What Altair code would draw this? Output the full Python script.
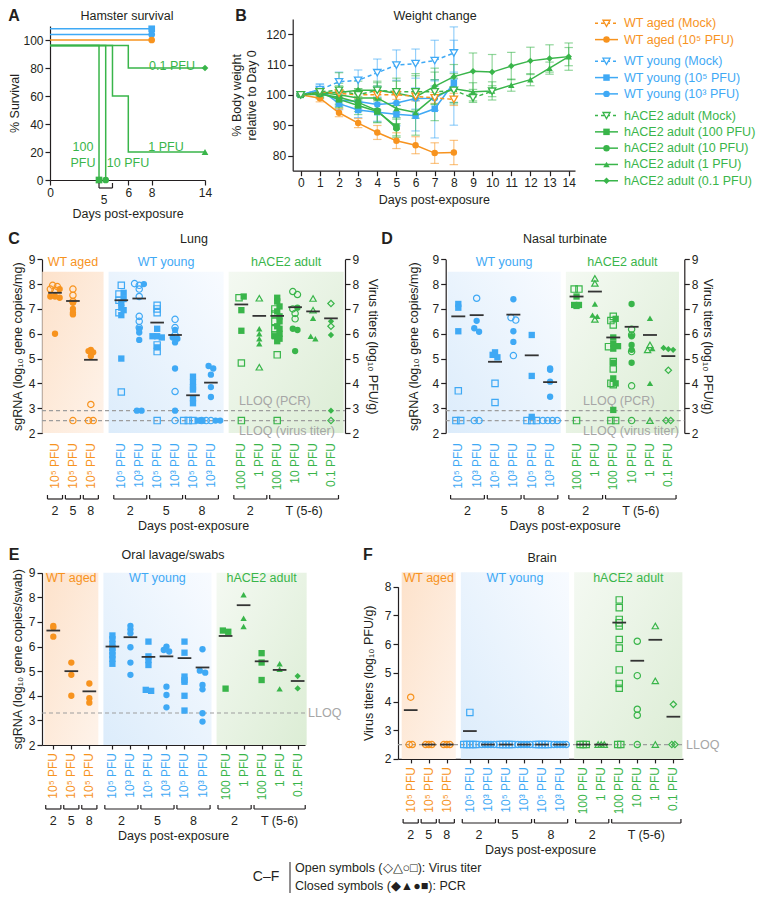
import altair as alt
import pandas as pd

W, H = 748, 888
FONT = "Liberation Sans"
INK = "#231f20"
ORANGE = "#f7931e"
BLUE = "#3fa9f5"
GREEN = "#39b54a"
LLOQ_GRAY = "#9d9d9d"
GCOL = {"aged": ORANGE, "young": BLUE, "hace2": GREEN}
GNAME = {"aged": "WT aged", "young": "WT young", "hace2": "hACE2 adult"}

# ---------------- Panel A: survival ----------------
A_DAYS = [[0, 8], [0, 8], [0, 8], [0, 4.4, 4.4], [0, 5, 5], [0, 5.3, 5.3, 6, 6, 14], [0, 6, 6, 14]]
A_SURV = [[108, 108], [104, 104], [100, 100], [96, 96, 0], [96, 96, 0], [96, 96, 60, 60, 20, 20], [96, 96, 80, 80]]
A_COLOR = [BLUE, BLUE, ORANGE, GREEN, GREEN, GREEN, GREEN]
A_SHAPE = ["square", "circle", "circle", "square", "circle", "triangle-up", "diamond"]
A_TICKS = [0, 6, 8, 14]
A_BRACKET_DAYS = [4.4, 5.3]

# ---------------- Panel B: weight ----------------
B_NAMES = ["WT aged (Mock)", "WT aged (10⁵ PFU)", "WT young (Mock)", "WT young (10⁵ PFU)",
           "WT young (10³ PFU)", "hACE2 adult (Mock)", "hACE2 adult (100 PFU)",
           "hACE2 adult (10 PFU)", "hACE2 adult (1 PFU)", "hACE2 adult (0.1 PFU)"]
B_COLOR = [ORANGE, ORANGE, BLUE, BLUE, BLUE, GREEN, GREEN, GREEN, GREEN, GREEN]
B_SHAPE = ["triangle-down", "circle", "triangle-down", "square", "circle",
           "triangle-down", "square", "circle", "triangle-up", "diamond"]
B_MOCK = [1, 0, 1, 0, 0, 1, 0, 0, 0, 0]
B_LEG_GROUP = [0, 0, 1, 1, 1, 2, 2, 2, 2, 2]
B_MEAN = [
    [100, 101, 100.5, 100, 100, 100, 99.5, 99, 98.5],
    [100, 98.9, 94.1, 90.7, 87.6, 84.9, 83.4, 80.8, 81.0],
    [100, 101.7, 104.3, 104.8, 107.3, 109.8, 110.3, 111.3, 113.8],
    [100, 101.8, 97.1, 95.0, 94.3, 93.6, 93.1, 95.4, 104.0],
    [100, 101.0, 98.3, 97.8, 96.8, 97.3, 98.8, 98.9, 102.5],
    [100, 101.0, 101.5, 100.0, 101.5, 101.0, 101.0, 101.0, 101.5, 99.0, 101.2],
    [100, 100.5, 98.5, 96.5, 94.5, 89.5],
    [100, 100.2, 99.2, 97.5, 94.8, 89.0],
    [100, 100.8, 100.0, 99.0, 99.0, 95.5, 94.2, 99.5, 102.0, 101.0, 101.3, 103.2, 105.0, 108.8, 112.6],
    [100, 100.8, 100.8, 101.5, 101.5, 100.5, 99.3, 102.8, 106.0, 107.8, 107.5, 109.5, 111.2, 112.0, 112.6],
]
B_ERR = [
    [0.3, 0.8, 1.2, 1.2, 1.5, 1.5, 1.5, 1.8, 2.0],
    [0.3, 1.2, 1.3, 1.5, 2.3, 2.6, 2.8, 3.4, 4.0],
    [0.3, 1.8, 3.2, 3.4, 4.5, 5.0, 4.8, 6.7, 8.6],
    [0.3, 1.8, 2.0, 2.5, 3.0, 3.8, 5.0, 9.6, 14.0],
    [0.3, 1.2, 2.0, 2.5, 2.5, 3.0, 3.5, 4.0, 5.0],
    [0.3, 1.0, 5.8, 2.0, 2.5, 4.5, 6.0, 4.0, 4.0, 1.5, 1.8],
    [0.3, 1.5, 2.5, 3.0, 3.5, 3.0],
    [0.3, 1.5, 2.5, 3.0, 4.0, 3.0],
    [0.3, 1.5, 3.0, 3.0, 4.0, 5.0, 7.5, 8.0, 5.0, 3.0, 3.0, 2.0, 2.0, 2.0, 3.0],
    [0.3, 1.5, 3.0, 3.0, 3.0, 4.0, 7.0, 6.0, 4.0, 6.0, 5.8, 4.5, 4.5, 4.5, 4.5],
]
B_TICKS = list(range(0, 15))

# ---------------- Categories (C and F) ----------------
CF_GROUP = ["aged", "aged", "aged", "young", "young", "young", "young", "young", "young",
            "hace2", "hace2", "hace2", "hace2", "hace2", "hace2"]
CF_LABEL = ["10⁵ PFU", "10⁵ PFU", "10⁵ PFU", "10⁵ PFU", "10³ PFU", "10⁵ PFU", "10³ PFU", "10⁵ PFU", "10³ PFU",
            "100 PFU", "1 PFU", "100 PFU", "10 PFU", "1 PFU", "0.1 PFU"]
CF_DAY = ["2", "5", "8", "2", "2", "5", "5", "8", "8", "2", "2", "T (5-6)", "T (5-6)", "T (5-6)", "T (5-6)"]
CF_SHAPE = ["circle", "circle", "circle", "square", "circle", "square", "circle", "square", "circle",
            "square", "triangle-up", "square", "circle", "triangle-up", "diamond"]

# Panel C: lung
C_TITER = [[7.95, 7.9, 7.8, 7.75], [7.8, 7.55, 7.3, 2.5], [3.15, 2.5, 2.5],
           [7.95, 7.6, 7.35, 6.85, 3.65], [8.02, 7.95, 7.8, 7.5, 6.7, 6.5, 6.25],
           [7.15, 7.0, 6.85, 5.55, 5.28, 2.5], [6.58, 6.25, 5.95, 3.67, 2.5],
           [2.5, 2.5, 2.5], [2.5, 2.5, 2.5],
           [7.45, 4.82, 2.5], [7.43, 4.65], [7.0, 6.8, 6.5, 6.2, 5.95, 5.15, 2.5],
           [7.7, 7.58, 7.0, 6.82, 6.6], [7.42, 6.95], [7.22, 6.3, 2.5]]
C_PCR = [[7.8, 7.5, 7.5, 7.45, 6.0], [7.25, 7.0, 6.85, 6.78], [5.35, 5.3, 5.25, 5.1],
         [7.65, 7.4, 7.25, 7.05, 6.95, 6.75, 5.0], [8.0, 6.2, 6.05, 5.75, 2.9, 2.9],
         [6.2, 5.9, 5.9, 5.85, 5.45], [6.15, 5.85, 5.8, 5.65, 4.6, 2.9],
         [4.27, 4.05, 3.85, 3.75, 3.4, 3.2, 2.5, 2.5], [4.7, 4.6, 4.35, 3.85, 3.45, 2.5, 2.5],
         [7.5, 6.95, 6.12], [6.2, 6.0, 5.8, 5.6],
         [7.45, 7.3, 7.1, 6.9, 6.7, 6.5, 6.3, 6.2, 6.0, 5.9, 5.8, 5.7],
         [7.05, 6.2, 6.15, 5.3], [6.62, 5.9, 5.8], [6.5, 5.95, 2.9]]
C_MEAN = [7.65, 7.32, 4.95, 7.35, 7.42, 6.45, 5.95, 3.52, 4.03, 7.18, 6.72, 6.72, 7.07, 6.9, 6.62]

# Panel D: nasal turbinate
D_GROUP = CF_GROUP[3:]
D_LABEL = CF_LABEL[3:]
D_DAY = CF_DAY[3:]
D_SHAPE = CF_SHAPE[3:]
D_TITER = [[3.7, 2.5, 2.5], [7.43, 2.5, 2.5], [4.0, 3.23], [6.65, 6.55, 5.12], [2.5, 2.5, 2.5],
           [2.5, 2.5, 2.5, 2.5], [7.8, 7.8, 2.5], [8.23, 8.03, 6.58],
           [6.7, 6.53, 6.35, 5.48, 4.88, 4.58, 4.0, 3.95, 2.5, 2.5],
           [6.18, 5.95, 5.28, 3.9, 2.5], [5.55, 5.35, 2.5], [4.53, 2.5, 2.5]]
D_PCR = [[7.2, 7.05, 6.1], [6.52, 6.22, 6.08], [5.25, 5.15, 5.05], [7.39, 6.1, 5.67], [5.95, 4.3, 2.65],
         [4.6, 4.55, 4.07, 3.46], [7.5, 7.16, 7.16, 7.12], [7.2, 6.75, 6.7],
         [6.6, 5.85, 5.6, 5.5, 5.4, 4.83, 4.2, 4.0, 2.93], [7.2, 5.9, 5.55, 5.35, 4.83],
         [6.62, 5.4, 4.0], [5.43, 5.38, 5.35]]
D_MEAN = [6.7, 6.75, 4.87, 6.77, 5.13, 4.05, 7.5, 7.7, 5.85, 6.28, 5.95, 5.1]

# Panel E: oral lavage/swabs (PCR only)
E_GROUP = ["aged", "aged", "aged", "young", "young", "young", "young", "young", "young",
           "hace2", "hace2", "hace2", "hace2", "hace2"]
E_LABEL = ["10⁵ PFU", "10⁵ PFU", "10⁵ PFU", "10⁵ PFU", "10³ PFU", "10⁵ PFU", "10³ PFU", "10⁵ PFU", "10³ PFU",
           "100 PFU", "1 PFU", "100 PFU", "1 PFU", "0.1 PFU"]
E_DAY = ["2", "5", "8", "2", "2", "5", "5", "8", "8", "2", "2", "T (5-6)", "T (5-6)", "T (5-6)"]
E_SHAPE = ["circle", "circle", "circle", "square", "circle", "square", "circle", "square", "circle",
           "square", "triangle-up", "square", "triangle-up", "diamond"]
E_TITER = [[], [], [], [], [], [], [], [], [], [], [], [], [], []]
E_PCR = [[6.84, 6.77, 6.4], [5.35, 4.85, 4.0], [4.5, 3.9, 3.72],
         [6.45, 6.3, 6.1, 5.95, 5.8, 5.65, 5.5, 5.3], [6.84, 6.7, 6.54, 5.97, 5.35, 4.85],
         [6.2, 5.6, 5.45, 5.25, 4.24, 4.2], [6.0, 5.86, 5.8, 4.37, 4.03, 3.53],
         [6.2, 5.75, 4.78, 4.64, 4.57, 4.0, 3.4], [5.89, 5.02, 4.94, 4.44, 4.26, 3.29, 2.95],
         [6.65, 6.6, 4.29], [8.1, 7.15, 6.81], [5.73, 5.35, 4.64], [5.3, 5.08, 4.28], [4.8, 4.3]]
E_MEAN = [6.65, 5.0, 4.18, 6.0, 6.38, 5.58, 5.6, 5.53, 5.15, 6.43, 7.68, 5.4, 5.05, 4.6]

# Panel F: brain (virus titer only)
F_TITER = [[4.15, 2.5, 2.5], [2.5, 2.5, 2.5], [2.5, 2.5, 2.5],
           [3.62, 2.5, 2.5, 2.5, 2.5, 2.5], [2.5, 2.5, 2.5, 2.5, 2.5], [2.5, 2.5, 2.5, 2.5, 2.5],
           [2.5, 2.5, 2.5, 2.5, 2.5], [2.5, 2.5, 2.5, 2.5, 2.5], [2.5, 2.5, 2.5, 2.5, 2.5],
           [2.5, 2.5, 2.5], [2.5, 2.5, 2.5],
           [7.54, 7.27, 6.86, 6.74, 6.63, 6.16, 5.86, 5.1, 4.63, 4.46, 2.5, 2.5],
           [6.1, 4.9, 3.73, 3.52, 2.5], [6.63, 4.72, 2.5], [3.9, 2.5, 2.5]]
F_PCR = [[], [], [], [], [], [], [], [], [], [], [], [], [], [], []]
F_MEAN = [3.7, 2.5, 2.5, 2.97, 2.5, 2.5, 2.5, 2.5, 2.5, 2.5, 2.5, 6.75, 5.42, 6.15, 3.47]


# ---------------- helpers ----------------
def P(v):
    return v - 8


def lin(domain, prange):
    return alt.Scale(domain=list(domain), range=[P(r) for r in prange], nice=False, zero=False)


def ax(orient, page_pos, **kw):
    if orient == "left":
        off = -P(page_pos)
    elif orient == "right":
        off = P(page_pos) - W
    else:
        off = P(page_pos) - H
    base = dict(orient=orient, offset=off, grid=False, labelFlush=False, labelOverlap=False)
    base.update(kw)
    return alt.Axis(**base)


def T(text, x, y, size=12.5, color=INK, weight="normal", align="center", angle=0):
    return alt.Chart(pd.DataFrame({"t": [text]})).mark_text(
        font=FONT, fontSize=size, color=color, fontWeight=weight, align=align, angle=angle,
        baseline="middle").encode(x=alt.value(P(x)), y=alt.value(P(y)), text="t:N")


def grad(c0, c1, x1, y1, x2, y2):
    return alt.LinearGradient(gradient="linear", x1=x1, y1=y1, x2=x2, y2=y2,
                              stops=[alt.GradientStop(color=c0, offset=0), alt.GradientStop(color=c1, offset=1)])


GRAD = {
    "aged": grad("#fde2cb", "#fef3ea", 0, 0, 1, 1),
    "young": grad("#dcecfb", "#f8fbff", 0, 1, 1, 0),
    "hace2": grad("#dcedd5", "#f4f9f2", 1, 1, 0, 0),
}

layers = []

# ---------------- Panel A ----------------
a_rows = []
for s, (ds, vs) in enumerate(zip(A_DAYS, A_SURV)):
    for k, (d, v) in enumerate(zip(ds, vs)):
        a_rows.append(dict(s=s, k=k, d=d, v=v, col=A_COLOR[s]))
a_df = pd.DataFrame(a_rows)
a_end = pd.DataFrame([dict(d=ds[-1], v=vs[-1], col=A_COLOR[s], shape=A_SHAPE[s])
                      for s, (ds, vs) in enumerate(zip(A_DAYS, A_SURV))])
AX_ = alt.Scale(domain=[0, 5, 6, 8, 14], range=[P(50), P(105.7), P(128.3), P(151.7), P(205)], nice=False, zero=False)
AY_ = lin([0, 110], [180, 26])
layers.append(alt.Chart(a_df).mark_line(strokeWidth=1.5).encode(
    x=alt.X("d:Q", scale=AX_, axis=ax("bottom", 180, values=A_TICKS, title="Days post-exposure", titlePadding=9)),
    y=alt.Y("v:Q", scale=AY_, axis=ax("left", 50, values=[0, 20, 40, 60, 80, 100], title="% Survival", titlePadding=1)),
    color=alt.Color("col:N", scale=None), detail="s:N", order="k:Q"))
layers.append(alt.Chart(a_end).mark_point(filled=True, size=45, opacity=1).encode(
    x=alt.X("d:Q", scale=AX_, axis=None), y=alt.Y("v:Q", scale=AY_, axis=None),
    color=alt.Color("col:N", scale=None), shape=alt.Shape("shape:N", scale=None)))
a_br = pd.DataFrame({"a": [min(A_BRACKET_DAYS)], "b": [max(A_BRACKET_DAYS)], "t": ["5"]})
layers.append(alt.Chart(a_br).mark_rule(color=INK, strokeWidth=1.2).encode(
    x=alt.X("a:Q", scale=AX_, axis=None), x2="b:Q", y=alt.value(P(188))))
for fld in ["a", "b"]:
    layers.append(alt.Chart(a_br).mark_rule(color=INK, strokeWidth=1.2).encode(
        x=alt.X(fld + ":Q", scale=AX_, axis=None), y=alt.value(P(183)), y2=alt.value(P(188))))
layers.append(alt.Chart(a_br).transform_calculate(mid="(datum.a + datum.b) / 2").mark_text(
    font=FONT, fontSize=12, color=INK).encode(x=alt.X("mid:Q", scale=AX_, axis=None), y=alt.value(P(200)), text="t:N"))
layers += [T("Hamster survival", 127, 16), T("A", 14, 16, size=16, weight="bold"),
           T("0.1 PFU", 172, 66, color=GREEN), T("1 PFU", 166, 147, color=GREEN),
           T("100", 83, 147, color=GREEN), T("PFU", 83, 163, color=GREEN), T("10 PFU", 128, 163, color=GREEN)]

# ---------------- Panel B ----------------
b_rows = []
for si in range(len(B_NAMES)):
    for d, (m, e) in enumerate(zip(B_MEAN[si], B_ERR[si])):
        b_rows.append(dict(si=si, d=d, m=m, e=e, col=B_COLOR[si], shape=B_SHAPE[si], mock=B_MOCK[si]))
b_df = pd.DataFrame(b_rows)
BX = lin([-0.42, 14.33], [292.7, 575])
BY = lin([75, 125], [170.7, 19])
bb = alt.Chart(b_df).transform_calculate(lo="datum.m - datum.e", hi="datum.m + datum.e",
                                         ca="datum.d - 0.22", cb="datum.d + 0.22")
layers.append(bb.mark_rule(strokeWidth=1.2, opacity=0.55).encode(
    x=alt.X("d:Q", scale=BX, axis=None), y=alt.Y("lo:Q", scale=BY, axis=None), y2="hi:Q",
    color=alt.Color("col:N", scale=None)))
for fld in ["lo", "hi"]:
    layers.append(bb.mark_rule(strokeWidth=1.2, opacity=0.55).encode(
        x=alt.X("ca:Q", scale=BX, axis=None), x2="cb:Q", y=alt.Y(fld + ":Q", scale=BY, axis=None),
        color=alt.Color("col:N", scale=None)))
layers.append(alt.Chart(b_df).transform_filter("datum.mock == 0").mark_line(strokeWidth=1.5).encode(
    x=alt.X("d:Q", scale=BX, axis=ax("bottom", 170.7, values=B_TICKS, title="Days post-exposure", titlePadding=5)),
    y=alt.Y("m:Q", scale=BY, axis=ax("left", 292.7, values=[80, 90, 100, 110, 120],
                                      title=["% Body weight", "relative to Day 0"], titlePadding=7,
                                      titleLineHeight=15)),
    color=alt.Color("col:N", scale=None), detail="si:N"))
layers.append(alt.Chart(b_df).transform_filter("datum.mock == 1").mark_line(strokeWidth=1.5, strokeDash=[4, 3]).encode(
    x=alt.X("d:Q", scale=BX, axis=None), y=alt.Y("m:Q", scale=BY, axis=None),
    color=alt.Color("col:N", scale=None), detail="si:N"))
layers.append(alt.Chart(b_df).transform_filter("datum.mock == 0").mark_point(filled=True, size=42, opacity=1).encode(
    x=alt.X("d:Q", scale=BX, axis=None), y=alt.Y("m:Q", scale=BY, axis=None),
    color=alt.Color("col:N", scale=None), shape=alt.Shape("shape:N", scale=None)))
layers.append(alt.Chart(b_df).transform_filter("datum.mock == 1").mark_point(
    filled=True, fill="white", size=55, strokeWidth=1.3, opacity=1).encode(
    x=alt.X("d:Q", scale=BX, axis=None), y=alt.Y("m:Q", scale=BY, axis=None),
    stroke=alt.Stroke("col:N", scale=None), shape=alt.Shape("shape:N", scale=None)))
layers += [T("Weight change", 435, 16), T("B", 241, 16, size=16, weight="bold")]

# legend
leg = pd.DataFrame({"name": B_NAMES, "col": B_COLOR, "shape": B_SHAPE, "mock": B_MOCK,
                    "row": list(range(len(B_NAMES))), "g": B_LEG_GROUP})
LY = lin([0, 10], [23.3, 186.3])
lb = alt.Chart(leg).transform_calculate(ly="datum.row + datum.g * 0.33")
layers.append(lb.transform_filter("datum.mock == 0").mark_rule(strokeWidth=1.5).encode(
    x=alt.value(P(595)), x2=alt.value(P(618)), y=alt.Y("ly:Q", scale=LY, axis=None),
    color=alt.Color("col:N", scale=None)))
layers.append(lb.transform_filter("datum.mock == 1").mark_rule(strokeWidth=1.5, strokeDash=[3, 3]).encode(
    x=alt.value(P(595)), x2=alt.value(P(618)), y=alt.Y("ly:Q", scale=LY, axis=None),
    color=alt.Color("col:N", scale=None)))
layers.append(lb.transform_filter("datum.mock == 0").mark_point(filled=True, size=42, opacity=1).encode(
    x=alt.value(P(606.5)), y=alt.Y("ly:Q", scale=LY, axis=None),
    color=alt.Color("col:N", scale=None), shape=alt.Shape("shape:N", scale=None)))
layers.append(lb.transform_filter("datum.mock == 1").mark_point(filled=True, fill="white", size=50,
                                                                strokeWidth=1.3, opacity=1).encode(
    x=alt.value(P(606.5)), y=alt.Y("ly:Q", scale=LY, axis=None),
    stroke=alt.Stroke("col:N", scale=None), shape=alt.Shape("shape:N", scale=None)))
layers.append(lb.mark_text(font=FONT, fontSize=12.5, align="left", baseline="middle").encode(
    x=alt.value(P(624)), y=alt.Y("ly:Q", scale=LY, axis=None), text="name:N",
    color=alt.Color("col:N", scale=None)))


# ---------------- dot panels ----------------
def dot_panel(groups, labels, days, shapes, titer, pcr, means, cfg):
    order = []
    for g in groups:
        if g not in order:
            order.append(g)
    gap = cfg["gap"]
    slots = [i + order.index(g) * gap for i, g in enumerate(groups)]
    cats = pd.DataFrame({"ci": list(range(len(groups))), "grp": groups, "gname": [GNAME[g] for g in groups],
                         "slot": slots, "lab": labels, "day": days,
                         "dkey": [g + "|" + d for g, d in zip(groups, days)],
                         "col": [GCOL[g] for g in groups], "m": means})
    rows = []
    for i in range(len(groups)):
        for v in titer[i]:
            rows.append(dict(ci=i, slot=slots[i], v=v, kind="t", shape=shapes[i], col=GCOL[groups[i]]))
        for v in pcr[i]:
            rows.append(dict(ci=i, slot=slots[i], v=v, kind="p", shape=shapes[i], col=GCOL[groups[i]]))
    pts = pd.DataFrame(rows)
    x0, u, L, R = cfg["x0"], cfg["unit"], cfg["left"], cfg["right"]
    xs = lin([(L - x0) / u, (R - x0) / u], [L, R])
    ys = lin(cfg["ydom"], [cfg["ybot"], cfg["ytop"]])
    out = []
    pad = cfg["pad"]
    for g in order:
        out.append(alt.Chart(cats).transform_filter(f"datum.grp == '{g}'")
                   .transform_aggregate(smin="min(slot)", smax="max(slot)")
                   .transform_calculate(xa=f"datum.smin - {pad}", xb=f"datum.smax + {pad}",
                                        ya=f"{cfg['ydom'][0]}", yb=f"{cfg['shade_top']}")
                   .mark_rect(fill=GRAD[g], strokeWidth=0)
                   .encode(x=alt.X("xa:Q", scale=xs, axis=None), x2="xb:Q",
                           y=alt.Y("ya:Q", scale=ys, axis=None), y2="yb:Q"))
    # group labels
    out.append(alt.Chart(cats).transform_aggregate(smin="min(slot)", smax="max(slot)", groupby=["gname", "col"])
               .transform_calculate(mid="(datum.smin + datum.smax) / 2")
               .mark_text(font=FONT, fontSize=12.5, baseline="middle")
               .encode(x=alt.X("mid:Q", scale=xs, axis=None), y=alt.value(P(cfg["glab_y"])), text="gname:N",
                       color=alt.Color("col:N", scale=None)))
    # LLOQ
    ll = pd.DataFrame({"v": cfg["lloq"]})
    rax = None
    if cfg.get("rtitle"):
        rax = ax("right", R, values=cfg["yticks"], title=cfg["rtitle"], titlePadding=cfg["rpad"])
    out.append(alt.Chart(ll).mark_rule(strokeDash=[4, 3], color=LLOQ_GRAY, strokeWidth=1.2).encode(
        x=alt.value(P(L)), x2=alt.value(P(R)), y=alt.Y("v:Q", scale=ys, axis=rax)))
    for (txt, lx, ly, al) in cfg["lloq_lab"]:
        out.append(T(txt, lx, ly, color="#a6a6a6", align=al))
    # points
    base = (alt.Chart(pts).transform_calculate(yb="round(datum.v / 0.15)")
            .transform_window(rn="row_number()", groupby=["ci", "yb"])
            .transform_joinaggregate(cnt="count()", groupby=["ci", "yb"])
            .transform_calculate(xj=f"datum.slot + (datum.rn - (datum.cnt + 1) / 2) * {cfg['jit']}"))
    out.append(base.transform_filter("datum.kind == 't'").mark_point(filled=False, size=40, strokeWidth=1.2, opacity=1)
               .encode(x=alt.X("xj:Q", scale=xs, axis=None), y=alt.Y("v:Q", scale=ys, axis=None),
                       color=alt.Color("col:N", scale=None), shape=alt.Shape("shape:N", scale=None)))
    out.append(base.transform_filter("datum.kind == 'p'").mark_point(filled=True, size=40, opacity=1)
               .encode(x=alt.X("xj:Q", scale=xs, axis=None), y=alt.Y("v:Q", scale=ys, axis=None),
                       color=alt.Color("col:N", scale=None), shape=alt.Shape("shape:N", scale=None)))
    # mean bars + axes
    xax = None
    if cfg.get("xaxis"):
        xax = ax("bottom", cfg["ybot"], values=slots, labels=False, tickSize=4, title="")
    lax = ax("left", L, values=cfg["yticks"], title=cfg["ltitle"], titlePadding=cfg["lpad"])
    out.append(alt.Chart(cats).transform_calculate(a="datum.slot - 0.38", b="datum.slot + 0.38")
               .mark_rule(color="#333333", strokeWidth=1.8)
               .encode(x=alt.X("a:Q", scale=xs, axis=xax), x2="b:Q", y=alt.Y("m:Q", scale=ys, axis=lax)))
    # category labels
    out.append(alt.Chart(cats).mark_text(font=FONT, fontSize=12, angle=270, align="right", baseline="middle")
               .encode(x=alt.X("slot:Q", scale=xs, axis=None), y=alt.value(P(cfg["lab_top"])), text="lab:N",
                       color=alt.Color("col:N", scale=None)))
    # brackets
    br = (alt.Chart(cats).transform_aggregate(smin="min(slot)", smax="max(slot)", groupby=["dkey", "day"])
          .transform_calculate(a="datum.smin - 0.42", b="datum.smax + 0.42", mid="(datum.smin + datum.smax) / 2"))
    by = cfg["br_y"]
    out.append(br.mark_rule(color=INK, strokeWidth=1.2).encode(
        x=alt.X("a:Q", scale=xs, axis=None), x2="b:Q", y=alt.value(P(by))))
    for fld in ["a", "b"]:
        out.append(br.mark_rule(color=INK, strokeWidth=1.2).encode(
            x=alt.X(fld + ":Q", scale=xs, axis=None), y=alt.value(P(by - 4)), y2=alt.value(P(by))))
    out.append(br.mark_text(font=FONT, fontSize=12.5, color=INK, baseline="middle").encode(
        x=alt.X("mid:Q", scale=xs, axis=None), y=alt.value(P(cfg["day_y"])), text="day:N"))
    out.append(T("Days post-exposure", (L + R) / 2 + cfg.get("xt_shift", 0), cfg["xt_y"]))
    out.append(T(cfg["title"], cfg["title_xy"][0], cfg["title_xy"][1]))
    out.append(T(cfg["letter"], cfg["letter_xy"][0], cfg["letter_xy"][1], size=16, weight="bold"))
    return out


LT_SG = "sgRNA (log₁₀ gene copies/mg)"
LT_VT = "Virus titers (log₁₀ PFU/g)"

layers += dot_panel(CF_GROUP, CF_LABEL, CF_DAY, CF_SHAPE, C_TITER, C_PCR, C_MEAN, dict(
    gap=0.7, x0=55, unit=17.92, left=42, right=345, ydom=[2, 9], ybot=433, ytop=259.3, shade_top=8.5,
    pad=0.71, jit=0.26, glab_y=262, lloq=[2.9, 2.5],
    lloq_lab=[("LLOQ (PCR)", 239, 401, "left"), ("LLOQ (virus titer)", 239, 431, "left")],
    yticks=[2, 3, 4, 5, 6, 7, 8, 9], ltitle=LT_SG, lpad=4, rtitle=LT_VT, rpad=7,
    lab_top=443, br_y=499, day_y=511, xt_y=526, title="Lung", title_xy=(194, 239),
    letter="C", letter_xy=(14, 239)))

layers += dot_panel(D_GROUP, D_LABEL, D_DAY, D_SHAPE, D_TITER, D_PCR, D_MEAN, dict(
    gap=0.44, x0=458.3, unit=18.36, left=445.7, right=684.3, ydom=[2, 9], ybot=433, ytop=259.3, shade_top=8.5,
    pad=0.58, jit=0.26, glab_y=262, lloq=[2.9, 2.5],
    lloq_lab=[("LLOQ (PCR)", 583, 401, "left"), ("LLOQ (virus titer)", 583, 431, "left")],
    yticks=[2, 3, 4, 5, 6, 7, 8, 9], ltitle=LT_SG, lpad=12, rtitle=LT_VT, rpad=3,
    lab_top=443, br_y=499, day_y=511, xt_y=526, title="Nasal turbinate", title_xy=(565, 239),
    letter="D", letter_xy=(387, 239)))

layers += dot_panel(E_GROUP, E_LABEL, E_DAY, E_SHAPE, E_TITER, E_PCR, E_MEAN, dict(
    gap=0.28, x0=53.3, unit=18.02, left=42, right=305, ydom=[2, 9], ybot=745, ytop=572.7, shade_top=9,
    pad=0.5, jit=0.3, glab_y=578, lloq=[3.3], lloq_lab=[("LLOQ", 308, 713, "left")],
    yticks=[2, 3, 4, 5, 6, 7, 8, 9], ltitle="sgRNA (log₁₀ gene copies/swab)", lpad=4, xaxis=True,
    lab_top=753, br_y=809, day_y=821, xt_y=836, title="Oral lavage/swabs", title_xy=(173, 555),
    letter="E", letter_xy=(14, 555)))

layers += dot_panel(CF_GROUP, CF_LABEL, CF_DAY, CF_SHAPE, F_TITER, F_PCR, F_MEAN, dict(
    gap=0.28, x0=410.7, unit=18.04, left=398, right=683, ydom=[2, 8], ybot=758.9, ytop=586.7, shade_top=8.5,
    pad=0.5, jit=0.17, glab_y=578, lloq=[2.5], lloq_lab=[("LLOQ", 686, 744.6, "left")],
    yticks=[2, 3, 4, 5, 6, 7, 8], ltitle=LT_VT, lpad=9, xaxis=True,
    lab_top=767, br_y=823, day_y=835, xt_y=850, title="Brain", title_xy=(542, 558),
    letter="F", letter_xy=(368, 555)))

# bottom note
layers.append(T("C–F", 266, 877, size=14))
layers.append(alt.Chart(pd.DataFrame({"a": [0]})).mark_rule(color=INK, strokeWidth=1).encode(
    x=alt.value(P(290)), y=alt.value(P(862)), y2=alt.value(P(893))))
layers.append(T("Open symbols (◇△○□): Virus titer", 295, 868, size=12.5, align="left"))
layers.append(T("Closed symbols (◆▲●■): PCR", 295, 886, size=12.5, align="left"))

chart = (alt.layer(*layers)
         .resolve_scale(x="independent", y="independent")
         .resolve_axis(x="independent", y="independent")
         .properties(width=W, height=H, autosize=alt.AutoSizeParams(type="none"), padding=0)
         .configure_view(stroke=None)
         .configure_axis(labelFont=FONT, titleFont=FONT, labelFontSize=12, titleFontSize=12.5,
                         titleFontWeight="normal", labelColor=INK, titleColor=INK, domainColor=INK,
                         tickColor=INK, domainWidth=1.2, tickWidth=1.2, tickSize=5, labelPadding=2))

chart.save("out.html", embed_options={"renderer": "svg", "actions": False})
